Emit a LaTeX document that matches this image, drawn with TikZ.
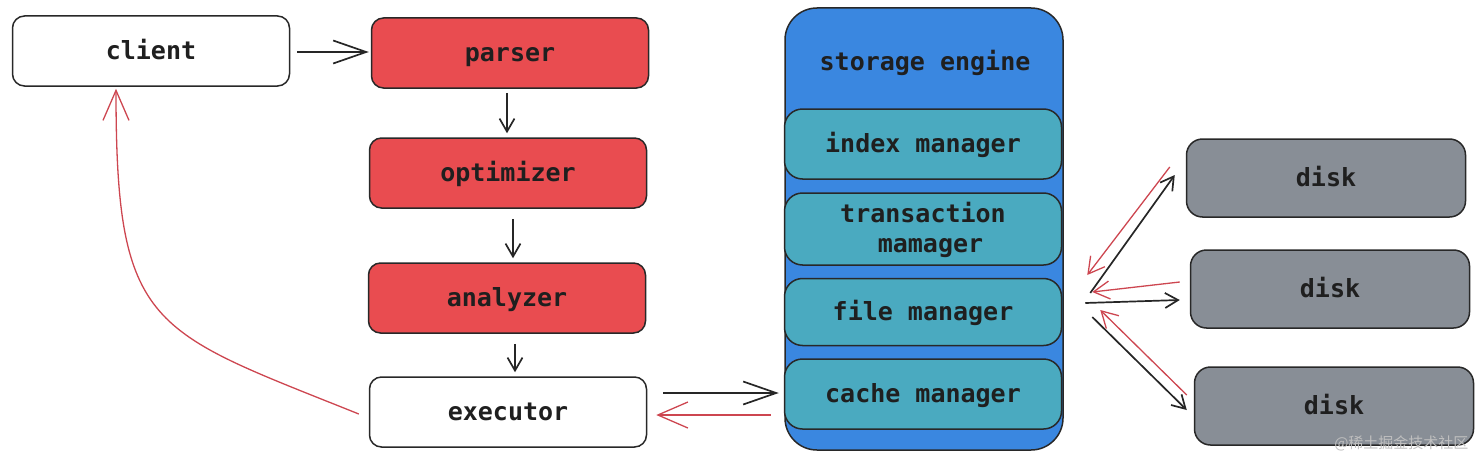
\documentclass[tikz,border=0pt]{standalone}
\usepackage{fontspec}
\setmonofont{DejaVu Sans Mono}
\newfontfamily\cjk{Noto Sans CJK SC}
\usetikzlibrary{arrows.meta,calc}
\definecolor{redbox}{RGB}{233,76,80}
\definecolor{bluebox}{RGB}{58,135,224}
\definecolor{tealbox}{RGB}{74,170,192}
\definecolor{graybox}{RGB}{136,142,150}
\definecolor{redline}{RGB}{205,70,80}
\definecolor{edge}{RGB}{40,40,40}
\tikzset{
  lbl/.style={font=\ttfamily\bfseries\fontsize{25}{30}\selectfont,text=black!88,
    text height=20pt,text depth=3pt,align=center},
  box/.style={lbl,draw=edge,line width=1.5pt,rounded corners=12pt,inner sep=0pt,
    minimum width=277pt,minimum height=70pt},
  whitebox/.style={box,fill=white},
  rbox/.style={box,fill=redbox},
  tbox/.style={box,fill=tealbox,rounded corners=18pt},
  gbox/.style={box,fill=graybox,minimum width=279pt,minimum height=78pt,rounded corners=16pt},
  outer/.style={draw=edge,line width=1.5pt,fill=bluebox,rounded corners=32pt,
    minimum width=278pt,minimum height=442pt,inner sep=0pt},
  blk/.style={draw=black!85,line width=1.7pt,-{Straight Barb[length=13pt,width=15pt,line width=1.7pt]}},
  bigblk/.style={draw=black!85,line width=1.7pt,-{Straight Barb[length=33pt,width=23pt,line width=1.7pt]}},
  red/.style={draw=redline,line width=1.3pt,-{Straight Barb[length=16pt,width=18pt,line width=1.3pt]}},
  bigred/.style={draw=redline,line width=1.3pt,-{Straight Barb[length=30pt,width=26pt,line width=1.3pt]}},
}
\begin{document}
\begin{tikzpicture}[x=1pt,y=-1pt]
\useasboundingbox (0,0) rectangle (1479,460);
% left column
\node[whitebox] (client) at (151,51) {client};
\node[rbox] (parser) at (510,53) {parser};
\node[rbox] (optimizer) at (508,173) {optimizer};
\node[rbox] (analyzer) at (507,298) {analyzer};
\node[whitebox] (executor) at (508,412) {executor};
% storage engine
\node[outer] (se) at (924,229) {};
\node[lbl] (setitle) at (925,62) {storage engine};
\node[tbox] (im) at (923,144) {index manager};
\node[tbox,minimum height=72pt,text height=50pt,text depth=3pt] (tm) at (923,229) {transaction\\\hspace*{0.6em}mamager};
\node[tbox,minimum height=67pt] (fm) at (923,312) {file manager};
\node[tbox] (cm) at (923,394) {cache manager};
% disks
\node[gbox] (d1) at (1326,178) {disk};
\node[gbox] (d2) at (1330,289) {disk};
\node[gbox] (d3) at (1334,406) {disk};
% arrows left column
\draw[bigblk] ($(client.east)+(7,1)$) -- ($(parser.west)+(-2,-1)$);
\draw[blk] ($(parser.south)+(-3,4)$) -- ($(optimizer.north)+(-1,-4)$);
\draw[blk] ($(optimizer.south)+(5,10)$) -- ($(analyzer.north)+(6,-4)$);
\draw[blk] ($(analyzer.south)+(8,10)$) -- ($(executor.north)+(7,-4)$);
% executor <-> cache manager
\draw[bigblk] ($(executor.east |- cm.west)+(16,-1)$) -- ($(cm.west)+(-5,-1)$);
\draw[bigred] ($(cm.west)+(-13,21)$) -- ($(executor.east |- cm.west)+(9,21)$);
% executor -> client
\draw[bigred] ($(executor.west)+(-10,2)$) .. controls (150,330) and (116,330) .. ($(client.south)+(-35,2)$);
% file manager <-> disks
\draw[blk] ($(fm.east)+(28,-19)$) -- ($(d1.west)+(-11,-3)$);
\draw[blk] ($(fm.east)+(23,-9)$) -- ($(d2.west)+(-10,11)$);
\draw[blk] ($(fm.east)+(30,5)$) -- ($(d3.west)+(-7,4)$);
\draw[red] ($(d1.west)+(-16,-11)$) -- ($(fm.east)+(25,-37)$);
\draw[red] ($(d2.west)+(-10,-7)$) -- ($(fm.east)+(30,-20)$);
\draw[red] ($(d3.west)+(-7,-11)$) -- ($(fm.east)+(38,-2)$);
% watermark
\node[font=\cjk\fontsize{15}{18}\selectfont,text=black!25,anchor=east] (wm) at (1472,443) {@稀土掘金技术社区};
\end{tikzpicture}
\end{document}
